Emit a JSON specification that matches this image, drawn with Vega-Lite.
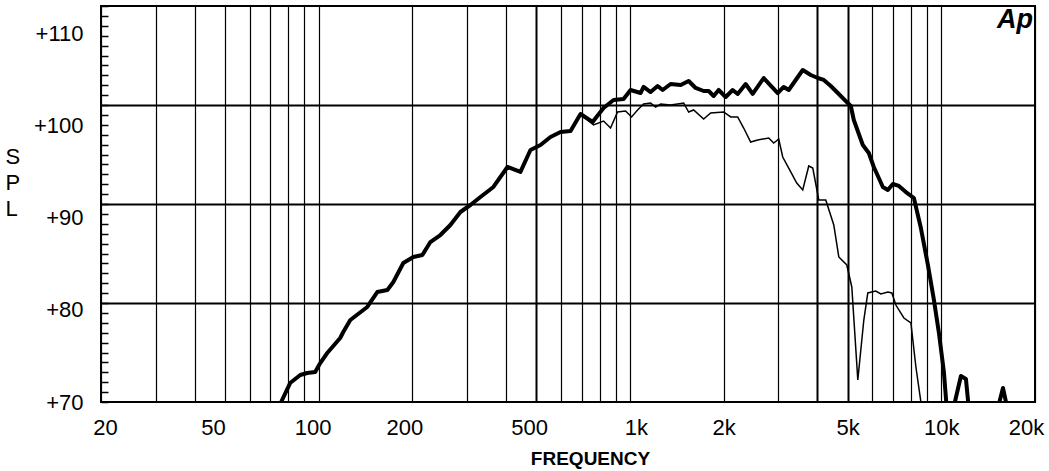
{
  "$schema": "https://vega.github.io/schema/vega-lite/v6.json",
  "width": 934,
  "height": 396,
  "autosize": "none",
  "padding": {"left": 101, "top": 6, "right": 14, "bottom": 69},
  "background": "white",
  "config": {
    "view": {"stroke": "black", "strokeWidth": 2},
    "font": "Liberation Sans, Arial, sans-serif"
  },
  "datasets": {
    "thick": [
      {"f": 74.7, "spl": 69.35}, {"f": 75.8, "spl": 70.0}, {"f": 81.0, "spl": 72.06}, {"f": 87.3, "spl": 72.93},
      {"f": 91.9, "spl": 73.15}, {"f": 97.5, "spl": 73.26}, {"f": 101.2, "spl": 74.23}, {"f": 106.6, "spl": 75.32},
      {"f": 117.3, "spl": 76.95}, {"f": 120.0, "spl": 77.6}, {"f": 126.4, "spl": 78.9}, {"f": 143.3, "spl": 80.32},
      {"f": 154.3, "spl": 81.94}, {"f": 166.3, "spl": 82.16}, {"f": 173.8, "spl": 83.03}, {"f": 187.1, "spl": 85.09},
      {"f": 201.5, "spl": 85.75}, {"f": 215.4, "spl": 85.96}, {"f": 228.5, "spl": 87.37}, {"f": 246.1, "spl": 88.13},
      {"f": 265.0, "spl": 89.22}, {"f": 285.4, "spl": 90.63}, {"f": 307.3, "spl": 91.39}, {"f": 331.0, "spl": 92.26},
      {"f": 364.3, "spl": 93.35}, {"f": 404.2, "spl": 95.52}, {"f": 444.9, "spl": 94.98}, {"f": 479.1, "spl": 97.36},
      {"f": 516.0, "spl": 97.91}, {"f": 555.6, "spl": 98.78}, {"f": 598.4, "spl": 99.32}, {"f": 644.4, "spl": 99.43},
      {"f": 693.9, "spl": 101.27}, {"f": 758.5, "spl": 100.4}, {"f": 822.7, "spl": 101.93}, {"f": 885.8, "spl": 102.79},
      {"f": 953.9, "spl": 102.9}, {"f": 1004.6, "spl": 103.88}, {"f": 1081.8, "spl": 103.55}, {"f": 1106.1, "spl": 104.21},
      {"f": 1165, "spl": 103.66}, {"f": 1226.9, "spl": 104.31}, {"f": 1273.3, "spl": 103.88}, {"f": 1350.9, "spl": 104.53},
      {"f": 1455.2, "spl": 104.42}, {"f": 1543.5, "spl": 104.86}, {"f": 1625.6, "spl": 104.1}, {"f": 1724.8, "spl": 103.77},
      {"f": 1789.9, "spl": 103.77}, {"f": 1857.5, "spl": 103.23}, {"f": 1927.4, "spl": 103.88}, {"f": 2029.8, "spl": 103.12},
      {"f": 2137.8, "spl": 103.88}, {"f": 2218.2, "spl": 103.45}, {"f": 2353.4, "spl": 104.53}, {"f": 2478.5, "spl": 103.45},
      {"f": 2689.2, "spl": 105.18}, {"f": 2982.8, "spl": 103.55}, {"f": 3118.4, "spl": 104.21}, {"f": 3235.9, "spl": 103.88},
      {"f": 3589.4, "spl": 106.05}, {"f": 3808.4, "spl": 105.51}, {"f": 4011.6, "spl": 105.18}, {"f": 4193.3, "spl": 104.97},
      {"f": 4417.1, "spl": 104.31}, {"f": 4651.9, "spl": 103.55}, {"f": 4935.6, "spl": 102.68}, {"f": 5121.7, "spl": 102.14},
      {"f": 5236.4, "spl": 100.62}, {"f": 5596.3, "spl": 97.91}, {"f": 5850.6, "spl": 97.04}, {"f": 6071.5, "spl": 95.52},
      {"f": 6491, "spl": 93.35}, {"f": 6736.4, "spl": 93.02}, {"f": 6990.6, "spl": 93.67}, {"f": 7307.5, "spl": 93.46},
      {"f": 7696.6, "spl": 92.8}, {"f": 8165.7, "spl": 92.15}, {"f": 8600.3, "spl": 88.89}, {"f": 9057.6, "spl": 84.88},
      {"f": 9469.4, "spl": 81.08}, {"f": 9827, "spl": 77.49}, {"f": 10195, "spl": 73.26}, {"f": 10423, "spl": 69.13},
      {"f": 10737, "spl": 68.0}, {"f": 11061, "spl": 70.0}, {"f": 11564, "spl": 72.82}, {"f": 12000, "spl": 72.5},
      {"f": 12271, "spl": 69.13}, {"f": 12924, "spl": 68.0}, {"f": 14441, "spl": 68.6}, {"f": 15320, "spl": 69.8},
      {"f": 15782, "spl": 71.52}, {"f": 16138, "spl": 70.0}, {"f": 16499, "spl": 68.9}
    ],
    "thin": [
      {"f": 598.4, "spl": 99.32}, {"f": 644.4, "spl": 99.43}, {"f": 693.9, "spl": 101.27}, {"f": 763.9, "spl": 100.08},
      {"f": 822.7, "spl": 100.51}, {"f": 866.4, "spl": 99.75}, {"f": 912.5, "spl": 101.49}, {"f": 968, "spl": 101.6},
      {"f": 1012, "spl": 100.95}, {"f": 1058.1, "spl": 101.71}, {"f": 1106.1, "spl": 102.36}, {"f": 1165, "spl": 102.47},
      {"f": 1209.1, "spl": 102.03}, {"f": 1254.7, "spl": 102.36}, {"f": 1350.9, "spl": 102.25}, {"f": 1487.8, "spl": 102.47},
      {"f": 1543.5, "spl": 101.49}, {"f": 1601.7, "spl": 101.71}, {"f": 1724.8, "spl": 100.73}, {"f": 1816.5, "spl": 101.38},
      {"f": 2000, "spl": 101.49}, {"f": 2106.5, "spl": 100.95}, {"f": 2218.2, "spl": 100.95}, {"f": 2319, "spl": 99.75},
      {"f": 2442.2, "spl": 98.23}, {"f": 2572.1, "spl": 98.45}, {"f": 2790.5, "spl": 98.67}, {"f": 2896, "spl": 98.12},
      {"f": 3005.5, "spl": 98.56}, {"f": 3095.5, "spl": 96.6}, {"f": 3284.3, "spl": 94.98}, {"f": 3433.5, "spl": 93.78},
      {"f": 3589.4, "spl": 93.02}, {"f": 3752.6, "spl": 95.63}, {"f": 3866, "spl": 95.41}, {"f": 4041.4, "spl": 91.94},
      {"f": 4256, "spl": 91.94}, {"f": 4515.7, "spl": 89.22}, {"f": 4686.5, "spl": 85.75}, {"f": 4971.9, "spl": 84.88},
      {"f": 5159.5, "spl": 82.49}, {"f": 5393.9, "spl": 72.39}, {"f": 5639, "spl": 78.9}, {"f": 5807, "spl": 81.84},
      {"f": 6162.6, "spl": 82.05}, {"f": 6394.6, "spl": 81.73}, {"f": 6736.4, "spl": 81.94}, {"f": 6939, "spl": 81.84},
      {"f": 7147.5, "spl": 80.53}, {"f": 7584.5, "spl": 79.12}, {"f": 7988, "spl": 78.58}, {"f": 8289, "spl": 73.8},
      {"f": 8600.3, "spl": 70.0}, {"f": 8794, "spl": 68.6}
    ],
    "logo": [{"f": 17250, "spl": 110.6, "label": "Ap"}]
  },
  "layer": [
    {
      "data": {"name": "thin"},
      "mark": {"type": "line", "color": "black", "strokeWidth": 1.5, "clip": true, "interpolate": "linear"},
      "encoding": {
        "x": {
          "field": "f", "type": "quantitative",
          "scale": {"type": "log", "domain": [20, 20000], "nice": false},
          "axis": {
            "values": [20, 30, 40, 50, 60, 70, 80, 90, 100, 200, 300, 400, 500, 600, 700, 800, 900, 1000, 2000, 3000, 4000, 5000, 6000, 7000, 8000, 9000, 10000, 20000],
            "tickCount": 1000,
            "labelExpr": "indexof([20,50,100,200,500,1000,2000,5000,10000,20000], datum.value) >= 0 ? (datum.value >= 1000 ? (datum.value/1000) + 'k' : '' + datum.value) : ''",
            "grid": true,
            "gridColor": "black",
            "gridOpacity": 1,
            "gridWidth": {"condition": {"test": "datum.value == 500 || datum.value == 4000 || datum.value == 5000", "value": 2}, "value": 1.2},
            "ticks": false,
            "domain": false,
            "labelFontSize": 22,
            "labelColor": "black",
            "labelPadding": 15,
            "labelOffset": {"condition": [
              {"test": "datum.value == 20", "value": 4},
              {"test": "datum.value == 50", "value": -12},
              {"test": "datum.value == 100", "value": -6},
              {"test": "datum.value == 200", "value": -8},
              {"test": "datum.value == 500", "value": -7},
              {"test": "datum.value == 1000", "value": 6},
              {"test": "datum.value == 20000", "value": -9}
            ], "value": 0},
            "labelFlush": false,
            "labelOverlap": false,
            "labelBound": false,
            "title": "FREQUENCY",
            "titleFontSize": 19,
            "titleFontWeight": "bold",
            "titleColor": "black",
            "titleX": 489,
            "titleY": 62,
            "titleAlign": "center",
            "titleBaseline": "alphabetic"
          }
        },
        "y": {
          "field": "spl", "type": "quantitative",
          "scale": {"domain": [70, 113], "nice": false, "zero": false},
          "axis": {
            "values": [70, 71.075, 72.15, 73.225, 74.3, 75.375, 76.45, 77.525, 78.6, 79.675, 80, 80.75, 81.825, 82.9, 83.975, 85.05, 86.125, 87.2, 88.275, 89.35, 90, 90.425, 91.5, 92.575, 93.65, 94.725, 95.8, 96.875, 97.95, 99.025, 100, 100.1, 101.175, 102.25, 103.325, 104.4, 105.475, 106.55, 107.625, 108.7, 109.775, 110, 110.85, 111.925, 113],
            "tickCount": 1000,
            "labelExpr": "datum.value % 10 === 0 ? '+' + datum.value : ''",
            "offset": -7,
            "tickSize": 7,
            "tickWidth": 1.5,
            "tickColor": "black",
            "tickOpacity": {"condition": {"test": "datum.value == 80 || datum.value == 90 || datum.value == 100 || datum.value == 110", "value": 0}, "value": 1},
            "grid": true,
            "gridColor": "black",
            "gridWidth": 2,
            "gridOpacity": {"condition": {"test": "datum.value == 80.75 || datum.value == 91.5 || datum.value == 102.25", "value": 1}, "value": 0},
            "domain": false,
            "labelFontSize": 22,
            "labelColor": "black",
            "labelPadding": 18,
            "labelFlush": false,
            "labelOverlap": false,
            "labelBound": false,
            "title": ["S", "P", "L"],
            "titleAngle": 0,
            "titleAlign": "left",
            "titleBaseline": "top",
            "titleFontSize": 22,
            "titleFontWeight": "normal",
            "titleColor": "black",
            "titleLineHeight": 26,
            "titleX": -103,
            "titleY": 140
          }
        }
      }
    },
    {
      "data": {"name": "thick"},
      "mark": {"type": "line", "color": "black", "strokeWidth": 4, "clip": true, "strokeJoin": "round"},
      "encoding": {
        "x": {"field": "f", "type": "quantitative"},
        "y": {"field": "spl", "type": "quantitative"}
      }
    },
    {
      "data": {"name": "logo"},
      "mark": {"type": "text", "font": "Liberation Sans, Arial, sans-serif", "fontSize": 27, "fontWeight": "bold", "fontStyle": "italic", "align": "center", "baseline": "alphabetic", "color": "black"},
      "encoding": {
        "x": {"field": "f", "type": "quantitative"},
        "y": {"field": "spl", "type": "quantitative"},
        "text": {"field": "label"}
      }
    }
  ]
}
